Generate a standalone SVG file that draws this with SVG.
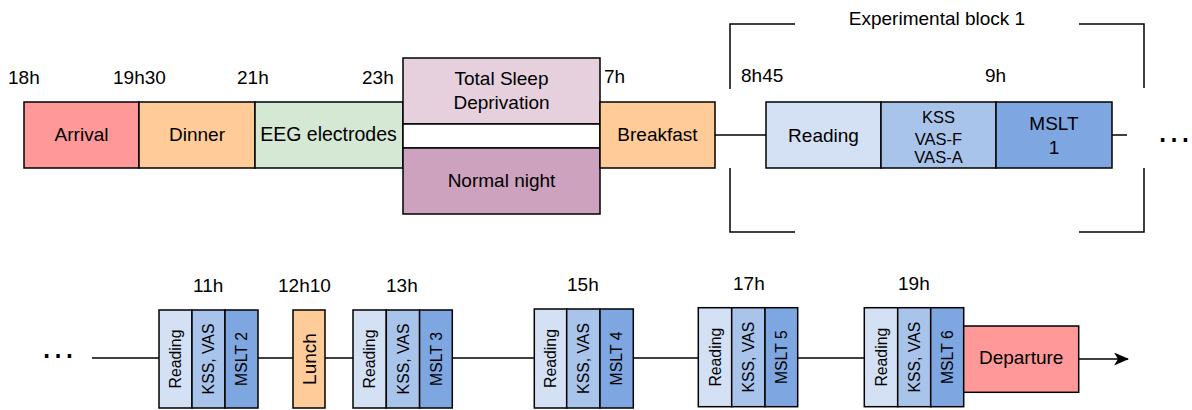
<svg xmlns="http://www.w3.org/2000/svg" width="1192" height="410" viewBox="0 0 1192 410">
<defs>
<style>
text{font-family:"Liberation Sans",Arial,sans-serif;fill:#000}
.t{font-size:19px}
.c{text-anchor:middle}
.r{font-size:15.8px;text-anchor:middle}
.k{font-size:16.5px;text-anchor:middle}
.d{font-size:36px}
.box{stroke:#000;stroke-width:1.5}
.ln{stroke:#000;stroke-width:1.5;fill:none}
.red{fill:#FF9999}.ora{fill:#FFCC99}.grn{fill:#D5E8D4}.lpu{fill:#E6D0DE}.pu{fill:#CDA2BE}
.b1{fill:#D4E1F5}.b2{fill:#A9C4EB}.b3{fill:#7EA6E0}.wh{fill:#fff}
</style>
<marker id="arr" viewBox="0 0 15 13" refX="14" refY="6.5" markerWidth="15" markerHeight="13" markerUnits="userSpaceOnUse" orient="auto">
<path d="M0,0 L15,6.5 L0,13 L4,6.5 Z" fill="#000"/>
</marker>
</defs>
<g id="connectors">
<line class="ln" x1="715" y1="135" x2="766" y2="135"/>
<line class="ln" x1="1112" y1="135" x2="1127" y2="135"/>
<line class="ln" x1="92" y1="358" x2="159" y2="358"/>
<line class="ln" x1="258" y1="358" x2="293" y2="358"/>
<line class="ln" x1="325" y1="358" x2="353" y2="358"/>
<line class="ln" x1="452" y1="358" x2="534" y2="358"/>
<line class="ln" x1="633" y1="358" x2="698" y2="358"/>
<line class="ln" x1="798" y1="358" x2="864" y2="358"/>
<line class="ln" x1="1079" y1="359" x2="1128" y2="359" marker-end="url(#arr)"/>
</g>
<g id="bracket">
<path class="ln" d="M730,89 V24 H795"/>
<path class="ln" d="M1079,24 H1144 V88"/>
<path class="ln" d="M730,168 V232 H795"/>
<path class="ln" d="M1079,232 H1144 V168"/>
<text class="t c" x="937" y="25">Experimental block 1</text>
</g>
<g id="times">
<text class="t" x="8" y="84">18h</text>
<text class="t" x="113" y="84">19h30</text>
<text class="t" x="237" y="84">21h</text>
<text class="t" x="362" y="84">23h</text>
<text class="t" x="604" y="83">7h</text>
<text class="t" x="741" y="82">8h45</text>
<text class="t" x="985" y="82">9h</text>
<text class="t" x="193" y="292">11h</text>
<text class="t" x="278" y="292">12h10</text>
<text class="t" x="386" y="292">13h</text>
<text class="t" x="567" y="291">15h</text>
<text class="t" x="733" y="290">17h</text>
<text class="t" x="898" y="290">19h</text>
</g>
<g id="arrival"><rect class="box red" x="24" y="102" width="115" height="66"/><text class="t c" x="81.5" y="141">Arrival</text></g>
<g id="dinner"><rect class="box ora" x="139" y="102" width="116" height="66"/><text class="t c" x="197" y="141">Dinner</text></g>
<g id="eeg"><rect class="box grn" x="255" y="102" width="148" height="66"/><text class="t c" style="font-size:19.5px" x="328.5" y="141">EEG electrodes</text></g>
<g id="tsd"><rect class="box lpu" x="403" y="58" width="197" height="66"/><text class="t c" x="501.5" y="85">Total Sleep</text><text class="t c" x="501.5" y="109">Deprivation</text></g>
<g id="gap"><rect class="box wh" x="403" y="124" width="197" height="24"/></g>
<g id="normal"><rect class="box pu" x="403" y="148" width="197" height="66"/><text class="t c" x="501.5" y="187">Normal night</text></g>
<g id="breakfast"><rect class="box ora" x="600" y="102" width="115" height="66"/><text class="t c" x="657.5" y="141">Breakfast</text></g>
<g id="reading1"><rect class="box b1" x="766" y="102" width="115" height="66"/><text class="t c" x="823.5" y="142">Reading</text></g>
<g id="kss1"><rect class="box b2" x="881" y="102" width="115" height="66"/><text class="k" x="938.5" y="123">KSS</text><text class="k" x="938.5" y="145">VAS-F</text><text class="k" x="938.5" y="162.5">VAS-A</text></g>
<g id="mslt1"><rect class="box b3" x="996" y="102" width="116" height="66"/><text class="t c" x="1054" y="130">MSLT</text><text class="t c" x="1054" y="154">1</text></g>
<g id="dots1"><text class="d" x="1156" y="142">…</text></g>
<g id="dots2"><text class="d" x="40" y="358">…</text></g>
<g id="block2">
<rect class="box b1" x="159" y="310" width="33" height="98"/>
<rect class="box b2" x="192" y="310" width="33" height="98"/>
<rect class="box b3" x="225" y="310" width="33" height="98"/>
<text class="r" transform="translate(175.5,359) rotate(-90)" y="5.5">Reading</text>
<text class="r" transform="translate(208.5,359) rotate(-90)" y="5.5">KSS, VAS</text>
<text class="r" transform="translate(241.5,359) rotate(-90)" y="5.5">MSLT 2</text>
</g>
<g id="lunch"><rect class="box ora" x="293" y="310" width="32" height="98"/><text class="t c" transform="translate(309,359) rotate(-90)" y="6.5">Lunch</text></g>
<g id="block3">
<rect class="box b1" x="353" y="310" width="33.3" height="98"/>
<rect class="box b2" x="386.3" y="310" width="33.3" height="98"/>
<rect class="box b3" x="419.6" y="310" width="32.7" height="98"/>
<text class="r" transform="translate(369.7,359) rotate(-90)" y="5.5">Reading</text>
<text class="r" transform="translate(403,359) rotate(-90)" y="5.5">KSS, VAS</text>
<text class="r" transform="translate(436,359) rotate(-90)" y="5.5">MSLT 3</text>
</g>
<g id="block4">
<rect class="box b1" x="534.3" y="309" width="32.4" height="99"/>
<rect class="box b2" x="566.7" y="309" width="33.3" height="99"/>
<rect class="box b3" x="600" y="309" width="33.3" height="99"/>
<text class="r" transform="translate(550.5,358.5) rotate(-90)" y="5.5">Reading</text>
<text class="r" transform="translate(583.3,358.5) rotate(-90)" y="5.5">KSS, VAS</text>
<text class="r" transform="translate(616.7,358.5) rotate(-90)" y="5.5">MSLT 4</text>
</g>
<g id="block5">
<rect class="box b1" x="698.3" y="307.7" width="33.4" height="99"/>
<rect class="box b2" x="731.7" y="307.7" width="33.3" height="99"/>
<rect class="box b3" x="765" y="307.7" width="32.7" height="99"/>
<text class="r" transform="translate(715,357.2) rotate(-90)" y="5.5">Reading</text>
<text class="r" transform="translate(748.3,357.2) rotate(-90)" y="5.5">KSS, VAS</text>
<text class="r" transform="translate(781.3,357.2) rotate(-90)" y="5.5">MSLT 5</text>
</g>
<g id="block6">
<rect class="box b1" x="864.3" y="307.7" width="33.4" height="99"/>
<rect class="box b2" x="897.7" y="307.7" width="33" height="99"/>
<rect class="box b3" x="930.7" y="307.7" width="33" height="99"/>
<text class="r" transform="translate(881,357.2) rotate(-90)" y="5.5">Reading</text>
<text class="r" transform="translate(914.2,357.2) rotate(-90)" y="5.5">KSS, VAS</text>
<text class="r" transform="translate(947.2,357.2) rotate(-90)" y="5.5">MSLT 6</text>
</g>
<g id="departure"><rect class="box red" x="963.7" y="326" width="115" height="66.3"/><text class="t c" x="1021.2" y="364.3">Departure</text></g>
</svg>
